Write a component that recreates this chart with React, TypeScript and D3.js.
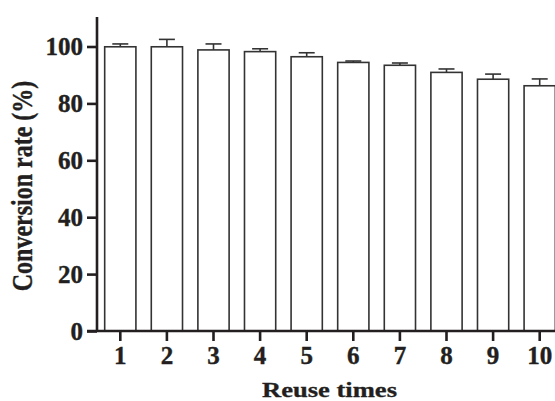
import React, { useRef, useEffect } from "react";
import * as d3 from "d3";

const reuseTimes = ["1", "2", "3", "4", "5", "6", "7", "8", "9", "10"];
const conversion = [99.9, 99.9, 98.8, 98.2, 96.4, 94.4, 93.4, 90.9, 88.5, 86.2];
const errors = [1.0, 2.6, 2.1, 1.0, 1.4, 0.5, 0.8, 1.2, 1.8, 2.4];
const yTicks = [0, 20, 40, 60, 80, 100];

const App = () => {
    const ref = useRef<SVGSVGElement>(null);

    useEffect(() => {
        const width = 555;
        const height = 401;
        const font = "'Liberation Serif', 'Times New Roman', serif";
        const ink = "#231f20";

        const svg = d3.select(ref.current)
            .attr("width", width)
            .attr("height", height);
        svg.selectAll("*").remove();

        const x = d3.scaleBand()
            .domain(reuseTimes)
            .range([97, 563])
            .paddingInner(0.33)
            .paddingOuter(0.165);

        const y = d3.scaleLinear()
            .domain([0, 100])
            .range([331, 46.5]);

        const data = reuseTimes.map((k, i) => ({ k, v: conversion[i], e: errors[i] }));

        // error bars first, the bar outline sits on top
        const err = svg.append("g").attr("stroke", "#333").attr("stroke-width", 1.6);
        data.forEach(d => {
            const cx = x(d.k)! + x.bandwidth() / 2;
            err.append("line")
                .attr("x1", cx).attr("x2", cx)
                .attr("y1", y(d.v)).attr("y2", y(d.v + d.e));
            err.append("line")
                .attr("x1", cx - 8).attr("x2", cx + 8)
                .attr("y1", y(d.v + d.e)).attr("y2", y(d.v + d.e));
        });

        // bars
        svg.append("g")
            .selectAll("rect")
            .data(data)
            .enter()
            .append("rect")
            .attr("x", d => x(d.k)!)
            .attr("width", x.bandwidth())
            .attr("y", d => y(d.v))
            .attr("height", d => y(0) - y(d.v))
            .attr("fill", "#fff")
            .attr("stroke", "#333")
            .attr("stroke-width", 1.6);

        const styleTick = (sel: any) => sel
            .attr("fill", ink)
            .attr("stroke", ink)
            .attr("stroke-width", 0.4)
            .style("font-family", font)
            .style("font-weight", "bold")
            .style("font-size", "25px");

        // y axis
        const yAxis = svg.append("g").attr("transform", "translate(97,0)")
            .call(d3.axisLeft(y).tickValues(yTicks).tickSize(10).tickPadding(4).tickFormat(d3.format("d")));
        yAxis.select(".domain").remove();
        yAxis.append("line")
            .attr("x1", 0).attr("x2", 0)
            .attr("y1", 17).attr("y2", 332)
            .attr("stroke", ink).attr("stroke-width", 2.6);
        yAxis.selectAll(".tick line").attr("stroke", ink).attr("stroke-width", 2.6);
        styleTick(yAxis.selectAll(".tick text"));

        // x axis
        const xAxis = svg.append("g").attr("transform", "translate(0,331)")
            .call(d3.axisBottom(x).tickSize(10).tickPadding(5));
        xAxis.select(".domain").remove();
        xAxis.append("line")
            .attr("x1", 87).attr("x2", width)
            .attr("y1", 0).attr("y2", 0)
            .attr("stroke", ink).attr("stroke-width", 2.6);
        xAxis.selectAll(".tick line").attr("stroke", ink).attr("stroke-width", 2.6);
        styleTick(xAxis.selectAll(".tick text"));

        // axis titles (the original type is a bit wide, hence the stretch)
        svg.append("text")
            .attr("x", 262)
            .attr("y", 397)
            .attr("textLength", 135)
            .attr("lengthAdjust", "spacingAndGlyphs")
            .attr("fill", ink)
            .attr("stroke", ink)
            .attr("stroke-width", 0.3)
            .style("font-family", font)
            .style("font-weight", "bold")
            .style("font-size", "21px")
            .text("Reuse times");

        svg.append("text")
            .attr("transform", "translate(32,186) scale(1.2,1) rotate(-90)")
            .attr("text-anchor", "middle")
            .attr("fill", ink)
            .attr("stroke", ink)
            .attr("stroke-width", 0.3)
            .style("font-family", font)
            .style("font-weight", "bold")
            .style("font-size", "24px")
            .text("Conversion rate (%)");
    }, []);

    return (
        <div style={{ position: "absolute", left: 0, top: 0 }}>
            <svg ref={ref}></svg>
        </div>
    );
};

export default App;
